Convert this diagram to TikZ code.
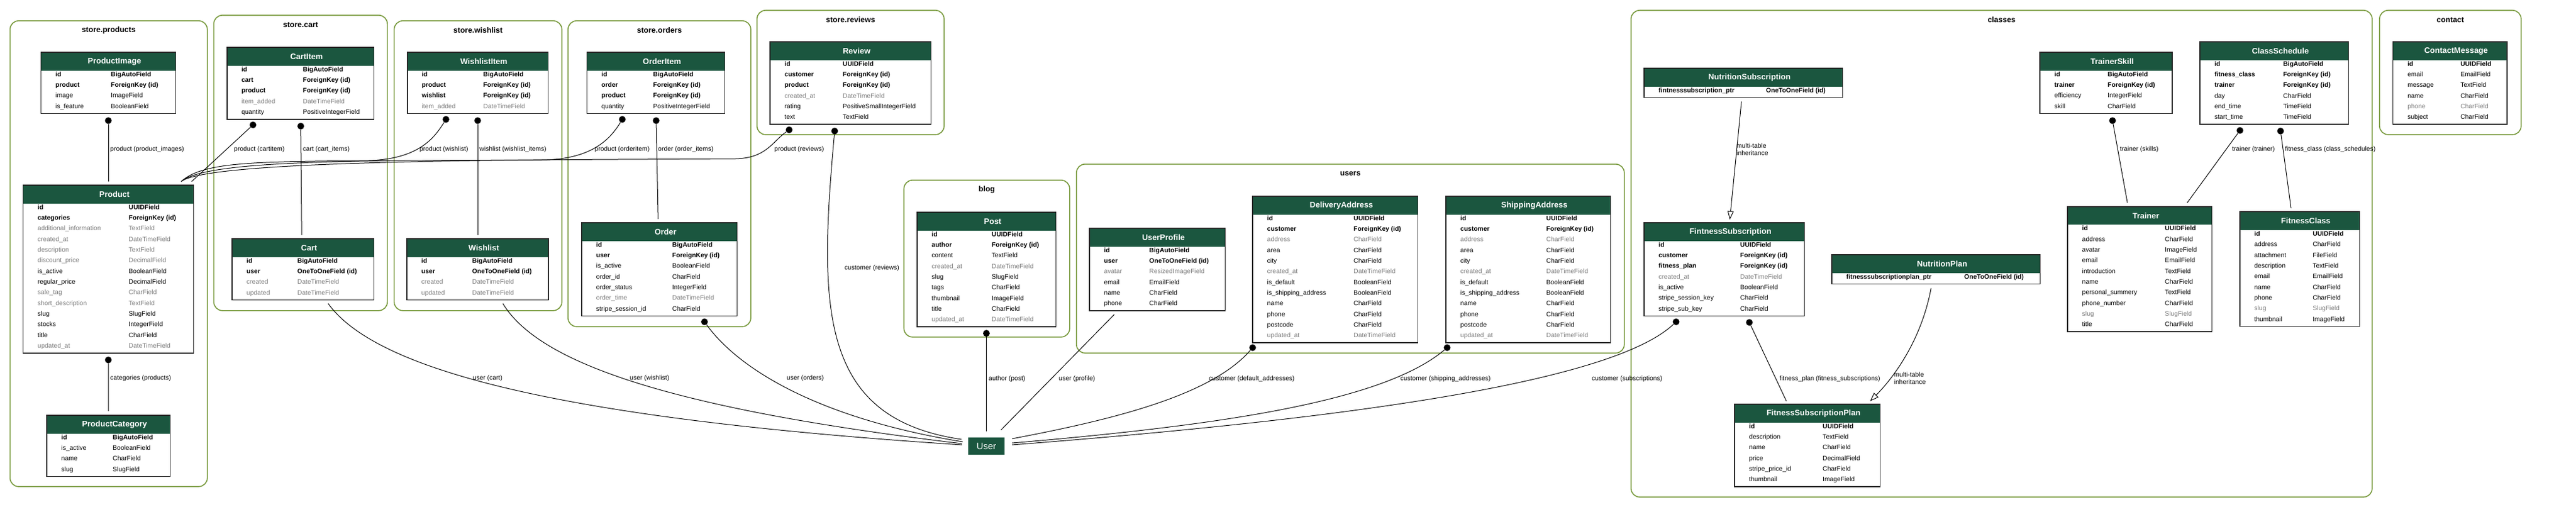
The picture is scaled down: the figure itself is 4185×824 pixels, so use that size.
\documentclass[tikz,border=0pt]{standalone}
\usepackage{fontspec}
\setmainfont{Liberation Sans}
\usepackage{tikz}
\usetikzlibrary{calc, positioning, arrows.meta}
\usepackage{xcolor}

\definecolor{hdrgreen}{HTML}{1B563F}
\definecolor{clusterolive}{HTML}{76983A}
\definecolor{nullgray}{HTML}{7B7B7B}

\begin{document}
\begin{tikzpicture}[x=1pt, y=-1pt]
        % Styles
        \tikzset{
          cluster/.style={
            draw=clusterolive, line width=1.6pt,
            rounded corners=14pt, inner sep=0pt, anchor=north west
          },
          clustertitle/.style={font=\fontsize{12.5}{15}\selectfont\bfseries},
          modelhead/.style={
            fill=hdrgreen, text=white, inner sep=0pt,
            minimum height=29.5pt, anchor=north west,
            font=\fontsize{13}{15}\selectfont\bfseries
          },
          modelframe/.style={draw=black!85, line width=1.8pt},
          field/.style={
            anchor=west, inner sep=0pt,
            text height=7.5pt, text depth=2.2pt,
            font=\fontsize{10.5}{12}\selectfont
          },
          pk/.style={font=\fontsize{10.5}{12}\selectfont\bfseries},
          fld/.style={},
          opt/.style={text=nullgray},
          usernode/.style={
            fill=hdrgreen, text=white, inner sep=0pt,
            minimum width=59pt, minimum height=28pt,
            font=\fontsize{15}{17}\selectfont
          },
          rel/.style={draw, line width=1pt},
          reldot/.style={circle, fill, inner sep=0pt, minimum size=11pt},
          inherit/.style={draw, line width=1pt, -{Triangle[open, length=14pt, width=10pt]}},
          elabel/.style={anchor=west, inner sep=0pt, align=left, font=\fontsize{10.5}{12}\selectfont}
        }

        % model table: name, title, top left, width, type column, rows
        \newcommand{\modelbox}[6]{%
          \node[modelhead, minimum width=#4] (#1) at #3 {\hspace*{20pt}#2};
          \foreach \fname/\ftype/\fsty [count=\i] in {#6} {
            \node[field, \fsty] (#1-n\i) at ($(#1.south west)+(23.5,{6.5+(\i-1)*17.35})$) {\fname};
            \node[field, \fsty] (#1-t\i) at ($(#1.south west)+(#5,{6.5+(\i-1)*17.35})$) {\ftype};
            \coordinate (#1-end) at ($(#1.south east)+(0,{17.5+(\i-1)*17.35})$);
            \coordinate (#1-foot) at ($(#1.south)+(0,{17.5+(\i-1)*17.35})$);
          }
          \draw[modelframe] (#1.north west) rectangle (#1-end);
        }

        \useasboundingbox (0,0) rectangle (4185,824);

        % app clusters
        \node[cluster, minimum width=320.5, minimum height=757] (g-products) at (15.5,33) {};
        \node[clustertitle] (t-products) at ($(g-products.north)+(0,16)$) {store.products};
        \node[cluster, minimum width=282, minimum height=480] (g-cart) at (346.5,24) {};
        \node[clustertitle] (t-cart) at ($(g-cart.north)+(0,16)$) {store.cart};
        \node[cluster, minimum width=272.4, minimum height=471] (g-wishlist) at (639.6,33) {};
        \node[clustertitle] (t-wishlist) at ($(g-wishlist.north)+(0,16)$) {store.wishlist};
        \node[cluster, minimum width=297, minimum height=497] (g-orders) at (922,33) {};
        \node[clustertitle] (t-orders) at ($(g-orders.north)+(0,16)$) {store.orders};
        \node[cluster, minimum width=304, minimum height=202] (g-reviews) at (1229,16) {};
        \node[clustertitle] (t-reviews) at ($(g-reviews.north)+(0,16)$) {store.reviews};
        \node[cluster, minimum width=269.3, minimum height=255] (g-blog) at (1467.7,292) {};
        \node[clustertitle] (t-blog) at ($(g-blog.north)+(0,16)$) {blog};
        \node[cluster, minimum width=890, minimum height=307] (g-users) at (1748,266) {};
        \node[clustertitle] (t-users) at ($(g-users.north)+(0,16)$) {users};
        \node[cluster, minimum width=1204, minimum height=791] (g-classes) at (2649,16) {};
        \node[clustertitle] (t-classes) at ($(g-classes.north)+(0,16)$) {classes};
        \node[cluster, minimum width=230, minimum height=202] (g-contact) at (3865,16) {};
        \node[clustertitle] (t-contact) at ($(g-contact.north)+(0,16)$) {contact};

        % store.products
        \modelbox{productimage}{ProductImage}{(66.5,85)}{218.5}{113.5}{
          id/BigAutoField/pk, product/ForeignKey (id)/pk, image/ImageField/fld, is\_feature/BooleanField/fld}
        \modelbox{product}{Product}{(37.5,301)}{276.5}{171.5}{
          id/UUIDField/pk, categories/ForeignKey (id)/pk,
          additional\_information/TextField/opt, created\_at/DateTimeField/opt,
          description/TextField/opt, discount\_price/DecimalField/opt,
          is\_active/BooleanField/fld, regular\_price/DecimalField/fld,
          sale\_tag/CharField/opt, short\_description/TextField/opt,
          slug/SlugField/fld, stocks/IntegerField/fld,
          title/CharField/fld, updated\_at/DateTimeField/opt}
        \modelbox{productcategory}{ProductCategory}{(76,675)}{200}{107}{
          id/BigAutoField/pk, is\_active/BooleanField/fld, name/CharField/fld, slug/SlugField/fld}

        % store.cart
        \modelbox{cartitem}{CartItem}{(368.6,77)}{238.4}{123.4}{
          id/BigAutoField/pk, cart/ForeignKey (id)/pk, product/ForeignKey (id)/pk,
          item\_added/DateTimeField/opt, quantity/PositiveIntegerField/fld}
        \modelbox{cart}{Cart}{(377,388)}{230}{106}{
          id/BigAutoField/pk, user/OneToOneField (id)/pk,
          created/DateTimeField/opt, updated/DateTimeField/opt}

        % store.wishlist
        \modelbox{wishlistitem}{WishlistItem}{(661.6,85)}{228.4}{123.4}{
          id/BigAutoField/pk, product/ForeignKey (id)/pk, wishlist/ForeignKey (id)/pk,
          item\_added/DateTimeField/opt}
        \modelbox{wishlist}{Wishlist}{(661,388)}{229.6}{106}{
          id/BigAutoField/pk, user/OneToOneField (id)/pk,
          created/DateTimeField/opt, updated/DateTimeField/opt}

        % store.orders
        \modelbox{orderitem}{OrderItem}{(953.5,85)}{223.5}{107.5}{
          id/BigAutoField/pk, order/ForeignKey (id)/pk, product/ForeignKey (id)/pk,
          quantity/PositiveIntegerField/fld}
        \modelbox{order}{Order}{(945,362)}{252}{147}{
          id/BigAutoField/pk, user/ForeignKey (id)/pk, is\_active/BooleanField/fld,
          order\_id/CharField/fld, order\_status/IntegerField/fld,
          order\_time/DateTimeField/opt, stripe\_session\_id/CharField/fld}

        % store.reviews
        \modelbox{review}{Review}{(1251,68)}{261}{118}{
          id/UUIDField/pk, customer/ForeignKey (id)/pk, product/ForeignKey (id)/pk,
          created\_at/DateTimeField/opt, rating/PositiveSmallIntegerField/fld, text/TextField/fld}

        % blog
        \modelbox{post}{Post}{(1490,345)}{225}{121}{
          id/UUIDField/pk, author/ForeignKey (id)/pk, content/TextField/fld,
          created\_at/DateTimeField/opt, slug/SlugField/fld, tags/CharField/fld,
          thumbnail/ImageField/fld, title/CharField/fld, updated\_at/DateTimeField/opt}

        % users
        \modelbox{userprofile}{UserProfile}{(1770,371)}{220}{97}{
          id/BigAutoField/pk, user/OneToOneField (id)/pk, avatar/ResizedImageField/opt,
          email/EmailField/fld, name/CharField/fld, phone/CharField/fld}
        \modelbox{deliveryaddress}{DeliveryAddress}{(2035,319)}{268}{164}{
          id/UUIDField/pk, customer/ForeignKey (id)/pk, address/CharField/opt,
          area/CharField/fld, city/CharField/fld, created\_at/DateTimeField/opt,
          is\_default/BooleanField/fld, is\_shipping\_address/BooleanField/fld,
          name/CharField/fld, phone/CharField/fld, postcode/CharField/fld,
          updated\_at/DateTimeField/opt}
        \modelbox{shippingaddress}{ShippingAddress}{(2349,319)}{267}{163}{
          id/UUIDField/pk, customer/ForeignKey (id)/pk, address/CharField/opt,
          area/CharField/fld, city/CharField/fld, created\_at/DateTimeField/opt,
          is\_default/BooleanField/fld, is\_shipping\_address/BooleanField/fld,
          name/CharField/fld, phone/CharField/fld, postcode/CharField/fld,
          updated\_at/DateTimeField/opt}

        % classes
        \modelbox{nutritionsub}{NutritionSubscription}{(2671,111)}{322}{198}{
          fintnesssubscription\_ptr/OneToOneField (id)/pk}
        \modelbox{fitnesssub}{FintnessSubscription}{(2671,362)}{260}{156}{
          id/UUIDField/pk, customer/ForeignKey (id)/pk, fitness\_plan/ForeignKey (id)/pk,
          created\_at/DateTimeField/opt, is\_active/BooleanField/fld,
          stripe\_session\_key/CharField/fld, stripe\_sub\_key/CharField/fld}
        \modelbox{fitnessplan}{FitnessSubscriptionPlan}{(2818,657)}{236}{143}{
          id/UUIDField/pk, description/TextField/fld, name/CharField/fld,
          price/DecimalField/fld, stripe\_price\_id/CharField/fld, thumbnail/ImageField/fld}
        \modelbox{nutritionplan}{NutritionPlan}{(2976,414)}{338}{215}{
          fitnesssubscriptionplan\_ptr/OneToOneField (id)/pk}
        \modelbox{trainerskill}{TrainerSkill}{(3314,85)}{214.5}{110}{
          id/BigAutoField/pk, trainer/ForeignKey (id)/pk, efficiency/IntegerField/fld, skill/CharField/fld}
        \modelbox{classschedule}{ClassSchedule}{(3574,68)}{241}{135}{
          id/BigAutoField/pk, fitness\_class/ForeignKey (id)/pk, trainer/ForeignKey (id)/pk,
          day/CharField/fld, end\_time/TimeField/fld, start\_time/TimeField/fld}
        \modelbox{trainer}{Trainer}{(3359,335.7)}{234}{158}{
          id/UUIDField/pk, address/CharField/fld, avatar/ImageField/fld, email/EmailField/fld,
          introduction/TextField/fld, name/CharField/fld, personal\_summery/TextField/fld,
          phone\_number/CharField/fld, slug/SlugField/opt, title/CharField/fld}
        \modelbox{fitnessclass}{FitnessClass}{(3638.6,344.3)}{194.4}{118.4}{
          id/UUIDField/pk, address/CharField/fld, attachment/FileField/fld,
          description/TextField/fld, email/EmailField/fld, name/CharField/fld,
          phone/CharField/fld, slug/SlugField/opt, thumbnail/ImageField/fld}

        % contact
        \modelbox{contactmessage}{ContactMessage}{(3887.5,68)}{185}{109.5}{
          id/UUIDField/pk, email/EmailField/fld, message/TextField/fld,
          name/CharField/fld, phone/CharField/opt, subject/CharField/fld}

        % the auth user
        \node[usernode] (user) at (1602.5,725) {User};

        % foreign key tails
        \node[reldot] (d-pimg) at (176,196) {};
        \node[reldot] (d-cat) at (176,585) {};
        \node[reldot] (d-ci-prod) at (411,203) {};
        \node[reldot] (d-ci-cart) at (488.6,205) {};
        \node[reldot] (d-wi-prod) at (724.5,194) {};
        \node[reldot] (d-wi-wish) at (776,196) {};
        \node[reldot] (d-oi-prod) at (1011,194) {};
        \node[reldot] (d-oi-order) at (1066,196) {};
        \node[reldot] (d-rv-prod) at (1282,211) {};
        \node[reldot] (d-rv-cust) at (1356,213) {};
        \node[reldot] (d-ord-user) at (1144.5,523) {};
        \node[reldot] (d-post) at (1602.5,541.7) {};
        \node[reldot] (d-da) at (2035,565) {};
        \node[reldot] (d-sa) at (2351,565) {};
        \node[reldot] (d-fs-cust) at (2723,523) {};
        \node[reldot] (d-fs-plan) at (2842,524) {};
        \node[reldot] (d-ts) at (3432,196) {};
        \node[reldot] (d-cs-trainer) at (3639,212) {};
        \node[reldot] (d-cs-class) at (3705,213) {};

        % relations in the store apps
        \draw[rel, shorten >=6pt] (d-pimg) -- (d-pimg |- product.north);
        \draw[rel] (d-cat) -- ($(productcategory.north)+(0,-7)$);
        \draw[rel] (d-ci-prod) -- ($(product.north east)+(-3,-6)$);
        \draw[rel] (d-ci-cart) -- ($(cart.north)+(-2,-6)$);
        \draw[rel] (d-wi-prod) .. controls (705,225) and (680,258) .. (600,261)
          .. controls (420,263) and (330,262) .. ($(product.north east)+(-20,-6)$);
        \draw[rel] (d-wi-wish) -- ($(wishlist.north)+(0,-6)$);
        \draw[rel] (d-oi-prod) .. controls (990,228) and (960,259) .. (880,260)
          .. controls (600,261) and (335,259) .. ($(product.north east)+(-20,-6)$);
        \draw[rel] (d-oi-order) -- ($(order.north)+(-2,-6)$);
        \draw[rel] (d-rv-prod) .. controls (1255,230) and (1245,257) .. (1195,258)
          .. controls (900,260) and (340,258) .. ($(product.north east)+(-20,-6)$);

        % relations to User
        \draw[rel] ($(cart-foot)+(41,6)$) .. controls (610,600) and (900,680) .. ($(user.west)+(-10,-2)$);
        \draw[rel] ($(wishlist-foot)+(41,6)$) .. controls (870,580) and (1050,660) .. ($(user.west)+(-10,-4)$);
        \draw[rel] (d-ord-user) .. controls (1200,600) and (1330,680) .. ($(user.west)+(-9,-7)$);
        \draw[rel] (d-rv-cust) .. controls (1330,500) and (1330,680) .. ($(user.west)+(-11,-11)$);
        \draw[rel, shorten >=10pt] (d-post) -- (user);
        \draw[rel] ($(userprofile-foot)+(-70,6)$) -- ($(user.north east)+(-6,-12)$);
        \draw[rel] (d-da) .. controls (1970,640) and (1820,680) .. ($(user.east)+(12,-12)$);
        \draw[rel] (d-sa) .. controls (2250,650) and (2000,690) .. ($(user.east)+(12,-5)$);
        \draw[rel] (d-fs-cust) .. controls (2620,620) and (2200,680) .. ($(user.east)+(12,-2)$);

        % relations in classes
        \draw[rel] (d-fs-plan) -- ($(fitnessplan.north)+(-34,-5)$);
        \draw[inherit] ($(nutritionsub-foot)+(-3,6.5)$) -- ($(fitnesssub.north)+(9,-5)$);
        \draw[inherit] ($(nutritionplan-foot)+(-8,7)$) .. controls (3120,560) and (3070,620)
          .. ($(fitnessplan.north)+(102,-5)$);
        \draw[rel] (d-ts) -- ($(trainer.north)+(-20,-6)$);
        \draw[rel] (d-cs-trainer) -- ($(trainer.north)+(77,-6)$);
        \draw[rel] (d-cs-class) -- ($(fitnessclass.north)+(-14,-6)$);

        % edge labels
        \node[elabel] (l-pimg) at (179,243) {product (product\_images)};
        \node[elabel] (l-cat) at (179,615) {categories (products)};
        \node[elabel] (l-ci-prod) at (380,243) {product (cartitem)};
        \node[elabel] (l-ci-cart) at (492,243) {cart (cart\_items)};
        \node[elabel] (l-wi-prod) at (681.6,243) {product (wishlist)};
        \node[elabel] (l-wi-wish) at (779,243) {wishlist (wishlist\_items)};
        \node[elabel] (l-oi-prod) at (966,243) {product (orderitem)};
        \node[elabel] (l-oi-order) at (1069,243) {order (order\_items)};
        \node[elabel] (l-rv-prod) at (1258,243) {product (reviews)};
        \node[elabel] (l-rv-cust) at (1372,436) {customer (reviews)};
        \node[elabel] (l-cart) at (768,615) {user (cart)};
        \node[elabel] (l-wish) at (1023,615) {user (wishlist)};
        \node[elabel] (l-ord) at (1278,615) {user (orders)};
        \node[elabel] (l-post) at (1606,616) {author (post)};
        \node[elabel] (l-prof) at (1720,616) {user (profile)};
        \node[elabel] (l-da) at (1964,616) {customer (default\_addresses)};
        \node[elabel] (l-sa) at (2275,616) {customer (shipping\_addresses)};
        \node[elabel] (l-fs-cust) at (2586,616) {customer (subscriptions)};
        \node[elabel] (l-fs-plan) at (2891,616) {fitness\_plan (fitness\_subscriptions)};
        \node[elabel] (l-inh-sub) at (2821,243) {multi-table\\inheritance};
        \node[elabel] (l-inh-plan) at (3077,615) {multi-table\\inheritance};
        \node[elabel] (l-ts) at (3444,243) {trainer (skills)};
        \node[elabel] (l-cs-trainer) at (3626,243) {trainer (trainer)};
        \node[elabel] (l-cs-class) at (3712,243) {fitness\_class (class\_schedules)};
\end{tikzpicture}
\end{document}
